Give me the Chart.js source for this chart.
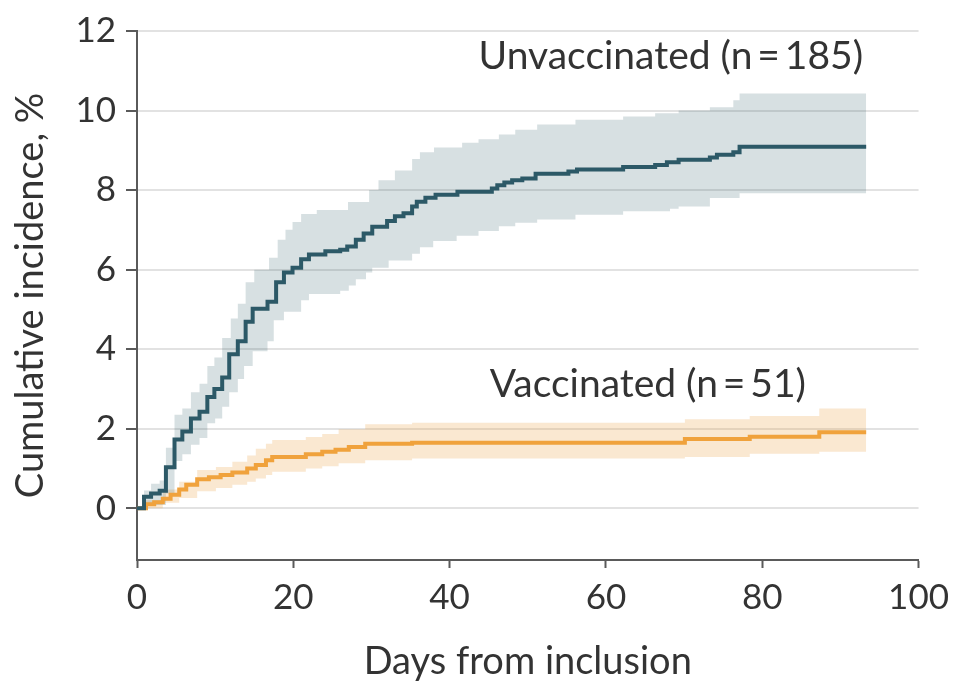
<!DOCTYPE html>
<html>
<head>
<meta charset="utf-8">
<script src="https://cdn.jsdelivr.net/npm/chart.js@4/dist/chart.umd.min.js"></script>
<style>
  html, body { margin: 0; padding: 0; background: #fff; }
  #wrap { width: 958px; height: 685px; position: relative; }
</style>
</head>
<body>
<div id="wrap"><canvas id="kmChart"></canvas></div>
<script>
// cumulative incidence, % (Kaplan-Meier style step curves)
const unvacDays = [0, 0.9, 1.8, 2.9, 3.7, 4.8, 5.8, 6.9, 8.0, 9.0, 9.9, 10.9, 11.8, 12.9, 13.9, 14.8, 16.7, 17.8, 18.8, 19.9, 21.0, 22.0, 24.1, 26.0, 26.9, 28.0, 29.0, 30.1, 32.0, 33.0, 34.1, 35.2, 35.8, 36.9, 38.2, 41.0, 45.4, 46.1, 47.0, 48.0, 49.3, 51.0, 55.2, 56.3, 62.2, 66.3, 67.8, 69.3, 73.3, 74.2, 76.3, 77.1, 93.3];
const unvacPct  = [0, 0.29, 0.37, 0.44, 1.03, 1.73, 1.93, 2.26, 2.43, 2.80, 3.00, 3.29, 3.87, 4.20, 4.69, 5.02, 5.19, 5.68, 5.93, 6.05, 6.26, 6.38, 6.46, 6.50, 6.58, 6.75, 6.91, 7.08, 7.22, 7.34, 7.42, 7.59, 7.71, 7.81, 7.88, 7.96, 8.04, 8.12, 8.19, 8.25, 8.29, 8.41, 8.47, 8.52, 8.58, 8.63, 8.70, 8.76, 8.82, 8.89, 8.95, 9.09, 9.09];

const unvacHiDays = [0, 0.9, 1.8, 2.9, 3.7, 4.8, 5.8, 6.9, 8.0, 9.0, 9.9, 10.9, 12.0, 12.9, 13.9, 15.0, 16.9, 18.0, 19.0, 19.9, 21.0, 23.0, 27.0, 29.7, 30.9, 33.0, 35.2, 36.2, 38.0, 41.6, 43.7, 46.3, 48.4, 51.2, 56.1, 62.2, 66.3, 69.3, 73.3, 76.3, 77.1, 93.3];
const unvacHi     = [0, 0.45, 0.62, 0.70, 1.52, 2.35, 2.51, 2.92, 3.13, 3.58, 3.79, 4.28, 4.77, 5.14, 5.68, 6.00, 6.30, 6.75, 7.00, 7.20, 7.40, 7.50, 7.70, 8.00, 8.25, 8.49, 8.78, 8.95, 9.07, 9.19, 9.28, 9.40, 9.52, 9.65, 9.77, 9.85, 9.93, 10.00, 10.08, 10.26, 10.43, 10.43];

const unvacLoDays = [0, 0.9, 3.7, 4.8, 5.8, 6.9, 8.0, 9.0, 10.0, 10.9, 11.8, 12.9, 13.7, 14.8, 16.7, 17.5, 18.8, 21.0, 22.0, 26.0, 27.1, 28.0, 29.3, 30.1, 32.2, 35.2, 36.2, 37.9, 40.9, 43.7, 46.3, 48.4, 51.2, 56.1, 62.2, 68.2, 69.3, 73.3, 77.1, 93.3];
const unvacLo     = [0, 0.08, 0.37, 1.19, 1.36, 1.60, 1.77, 2.14, 2.26, 2.55, 2.92, 3.25, 3.58, 3.95, 4.20, 4.73, 4.94, 5.23, 5.39, 5.47, 5.60, 5.76, 5.93, 6.05, 6.23, 6.40, 6.56, 6.72, 6.85, 6.97, 7.09, 7.18, 7.26, 7.38, 7.47, 7.53, 7.59, 7.80, 7.92, 7.92];

const vacDays = [0, 1.15, 2.2, 3.3, 4.3, 5.4, 6.3, 7.7, 9.2, 10.7, 12.2, 14.1, 15.2, 16.5, 17.3, 21.6, 23.7, 25.4, 27.1, 29.2, 35.2, 70.1, 78.4, 87.3, 93.3];
const vacPct  = [0, 0.10, 0.15, 0.24, 0.34, 0.47, 0.59, 0.73, 0.78, 0.84, 0.90, 1.00, 1.09, 1.21, 1.29, 1.36, 1.42, 1.47, 1.54, 1.62, 1.65, 1.74, 1.80, 1.91, 1.91];

const vacHiDays = [0, 1.15, 3.3, 5.4, 7.7, 10.1, 12.2, 14.1, 15.2, 16.5, 17.3, 21.6, 23.7, 25.8, 29.2, 35.2, 70.1, 78.4, 87.3, 93.3];
const vacHi     = [0, 0.20, 0.47, 0.67, 0.96, 1.04, 1.17, 1.33, 1.50, 1.62, 1.72, 1.79, 1.87, 1.99, 2.11, 2.15, 2.24, 2.32, 2.51, 2.51];

const vacLoDays = [0, 3.3, 5.4, 7.7, 10.1, 12.2, 14.1, 15.2, 16.5, 17.3, 21.6, 23.7, 25.8, 29.2, 35.2, 70.1, 78.4, 87.3, 93.3];
const vacLo     = [0, 0.14, 0.26, 0.43, 0.51, 0.59, 0.67, 0.75, 0.84, 0.92, 1.00, 1.06, 1.13, 1.21, 1.25, 1.29, 1.37, 1.42, 1.42];

const groupLabels = ['Unvaccinated (n\u2009=\u2009185)', 'Vaccinated (n\u2009=\u200951)'];

const FONT = 'Lato, "Open Sans", sans-serif';
const TEXT = '#333333';
const AXIS = '#5a5a5a';
const DARK = '#2c5967';
const ORANGE = '#f0a23c';

function pts(xs, ys) {
  return xs.map((x, i) => ({ x: x, y: ys[i] }));
}

// group labels sit inside the plot, right aligned
const groupText = {
  id: 'groupText',
  afterDatasetsDraw(chart) {
    const { ctx, scales: { x, y } } = chart;
    ctx.save();
    ctx.font = '39px ' + FONT;
    ctx.fillStyle = TEXT;
    ctx.textAlign = 'right';
    ctx.textBaseline = 'middle';
    ctx.fillText(groupLabels[0], x.getPixelForValue(92.9), y.getPixelForValue(11.35));
    ctx.fillText(groupLabels[1], x.getPixelForValue(85.6), y.getPixelForValue(3.12));
    ctx.restore();
  }
};

const ctx = document.getElementById('kmChart');

new Chart(ctx, {
  type: 'line',
  data: {
    datasets: [
      { label: 'Unvaccinated', data: pts(unvacDays, unvacPct), borderColor: DARK, borderWidth: 4, stepped: 'before', fill: false },
      { label: 'Vaccinated', data: pts(vacDays, vacPct), borderColor: ORANGE, borderWidth: 4, stepped: 'before', fill: false },
      { label: 'Unvac upper', data: pts(unvacHiDays, unvacHi), borderWidth: 0, borderColor: 'rgba(0,0,0,0)', stepped: 'before',
        fill: 3, backgroundColor: 'rgba(44,89,103,0.19)' },
      { label: 'Unvac lower', data: pts(unvacLoDays, unvacLo), borderWidth: 0, borderColor: 'rgba(0,0,0,0)', stepped: 'before', fill: false },
      { label: 'Vac upper', data: pts(vacHiDays, vacHi), borderWidth: 0, borderColor: 'rgba(0,0,0,0)', stepped: 'before',
        fill: 5, backgroundColor: 'rgba(236,165,70,0.25)' },
      { label: 'Vac lower', data: pts(vacLoDays, vacLo), borderWidth: 0, borderColor: 'rgba(0,0,0,0)', stepped: 'before', fill: false }
    ]
  },
  options: {
    responsive: true,
    maintainAspectRatio: false,
    animation: false,
    layout: { padding: { top: 23, right: 37, bottom: 0, left: 0 } },
    elements: { point: { radius: 0 }, line: { tension: 0 } },
    scales: {
      x: {
        type: 'linear',
        min: 0,
        max: 100,
        afterFit(scale) { scale.height = 125; },
        border: { display: true, color: AXIS, width: 2 },
        grid: { display: true, drawOnChartArea: false, drawTicks: true, tickLength: 8, tickColor: AXIS, tickWidth: 2 },
        ticks: { stepSize: 20, padding: 9, color: TEXT, font: { family: FONT, size: 35 } },
        title: { display: true, text: 'Days from inclusion', color: TEXT, font: { family: FONT, size: 38 }, padding: { top: 10, bottom: 0 } }
      },
      y: {
        min: -1.3,
        max: 12,
        afterFit(scale) { scale.width = 137; },
        afterBuildTicks(scale) { scale.ticks = scale.ticks.filter(t => t.value >= 0); },
        border: { display: true, color: AXIS, width: 2 },
        grid: { color: '#e2e2e2', lineWidth: 2, tickLength: 11, tickColor: AXIS, tickWidth: 2 },
        ticks: { stepSize: 2, padding: 10, color: TEXT, font: { family: FONT, size: 35 } },
        title: { display: true, text: 'Cumulative incidence, %', color: TEXT, font: { family: FONT, size: 38 }, padding: { top: 8, bottom: 0 } }
      }
    },
    plugins: {
      legend: { display: false },
      tooltip: { enabled: false }
    }
  },
  plugins: [groupText]
});
</script>
</body>
</html>
